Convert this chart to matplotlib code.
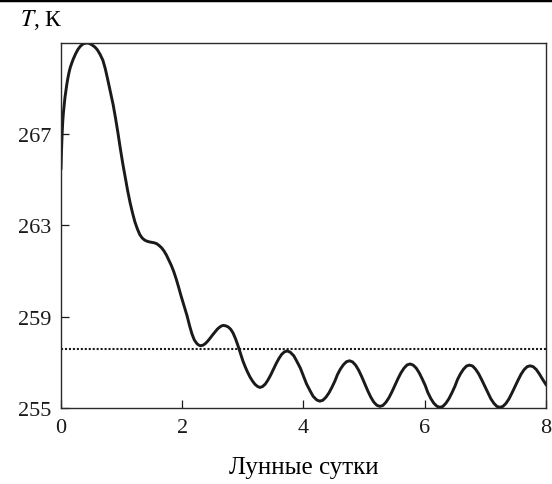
import matplotlib
matplotlib.use("Agg")
import matplotlib.pyplot as plt
from matplotlib.lines import Line2D

days = [0.0, 0.005, 0.01, 0.02, 0.03, 0.04, 0.05, 0.065, 0.08, 0.095, 0.11,
        0.13, 0.15, 0.175, 0.2, 0.24, 0.28, 0.32, 0.36, 0.4, 0.435, 0.47,
        0.52, 0.56, 0.6, 0.645, 0.69, 0.73, 0.77, 0.815, 0.86, 0.9, 0.94,
        0.98, 1.02, 1.06, 1.1, 1.14, 1.18, 1.22, 1.26, 1.3, 1.34, 1.38, 1.42,
        1.46, 1.5, 1.54, 1.58, 1.62, 1.66, 1.7, 1.74, 1.78, 1.82, 1.86, 1.9,
        1.94, 1.98, 2.02, 2.05, 2.08, 2.12, 2.16, 2.2, 2.24, 2.27, 2.3, 2.34,
        2.38, 2.42, 2.46, 2.5, 2.54, 2.58, 2.62, 2.65, 2.68, 2.72, 2.76, 2.8,
        2.84, 2.88, 2.92, 2.96, 3.0, 3.04, 3.08, 3.12, 3.16, 3.2, 3.24, 3.28,
        3.325, 3.37, 3.415, 3.46, 3.505, 3.55, 3.595, 3.64, 3.685, 3.73,
        3.78, 3.84, 3.89, 3.95, 4.0, 4.05, 4.11, 4.16, 4.22, 4.27,
        4.32, 4.37, 4.42, 4.47, 4.52, 4.56, 4.61, 4.66, 4.71, 4.76,
        4.81, 4.86, 4.91, 4.96, 5.01, 5.06, 5.11, 5.16, 5.21, 5.26,
        5.31, 5.36, 5.41, 5.46, 5.51, 5.56, 5.61, 5.66, 5.71, 5.76,
        5.81, 5.86, 5.91, 5.96, 6.01, 6.05, 6.1, 6.15, 6.2, 6.25,
        6.3, 6.35, 6.4, 6.45, 6.5, 6.54, 6.59, 6.64, 6.69, 6.74,
        6.79, 6.84, 6.89, 6.94, 6.99, 7.04, 7.09, 7.14, 7.19, 7.24,
        7.29, 7.34, 7.39, 7.44, 7.49, 7.54, 7.59, 7.64, 7.69, 7.74,
        7.79, 7.84, 7.89, 7.94, 8.0]
temp = [265.5, 266.0, 266.4, 267.1, 267.6, 267.95, 268.2, 268.6, 268.9,
        269.17, 269.41, 269.68, 269.9, 270.1, 270.28, 270.52, 270.72, 270.86,
        270.95, 270.99, 271.0, 270.98, 270.9, 270.82, 270.7, 270.5, 270.25,
        269.88, 269.41, 268.85, 268.3, 267.7, 267.05, 266.35, 265.7, 265.1,
        264.52, 264.0, 263.55, 263.15, 262.85, 262.6, 262.45, 262.36, 262.31,
        262.28, 262.26, 262.24, 262.2, 262.12, 262.02, 261.88, 261.7, 261.48,
        261.25, 260.98, 260.66, 260.3, 259.92, 259.57, 259.3, 259.04, 258.62,
        258.25, 257.98, 257.83, 257.76, 257.73, 257.75, 257.82, 257.93,
        258.06, 258.2, 258.33, 258.46, 258.55, 258.6, 258.62, 258.6, 258.55,
        258.45, 258.28, 258.03, 257.73, 257.4, 257.07, 256.8, 256.56, 256.35,
        256.18, 256.04, 255.95, 255.9,
        255.94, 256.05, 256.23, 256.45, 256.7, 256.95, 257.17, 257.35, 257.46,
        257.5,
        257.45, 257.29, 257.05, 256.74, 256.4, 256.06, 255.75, 255.51, 255.35,
        255.3,
        255.34, 255.47, 255.66, 255.91, 256.19, 256.46, 256.71, 256.9, 257.03,
        257.07,
        257.02, 256.88, 256.66, 256.38, 256.07, 255.76, 255.48, 255.26, 255.12,
        255.07,
        255.11, 255.25, 255.45, 255.71, 256.0, 256.29, 256.55, 256.75, 256.89,
        256.93,
        256.88, 256.75, 256.54, 256.27, 255.98, 255.69, 255.42, 255.21, 255.08,
        255.03,
        255.07, 255.21, 255.41, 255.67, 255.96, 256.24, 256.5, 256.7, 256.84,
        256.88,
        256.84, 256.7, 256.5, 256.24, 255.96, 255.67, 255.41, 255.21, 255.07,
        255.03,
        255.07, 255.2, 255.4, 255.66, 255.94, 256.22, 256.48, 256.68, 256.81,
        256.85,
        256.81, 256.69, 256.5, 256.28, 256.03]
mean_level = 257.6

x_ticks = [0, 2, 4, 6, 8]
y_ticks = [255, 259, 263, 267]

plt.rcParams["font.family"] = ["Liberation Serif", "DejaVu Serif"]
plt.rcParams["mathtext.fontset"] = "stix"

fig = plt.figure(figsize=(5.52, 4.85), dpi=100)
ax = fig.add_axes([0.1105, 0.1567, 0.8785, 0.7526])

ax.plot(days, temp, color="#1a1a1a", linewidth=2.1, solid_joinstyle="round")
ax.axhline(mean_level, color="#1a1a1a", linewidth=1.5, linestyle=(0, (1, 0.9)))

ax.set_xlim(0, 8)
ax.set_ylim(255, 271)
ax.set_xticks(x_ticks)
ax.set_yticks(y_ticks)
ax.tick_params(direction="in", length=6, width=0.9, labelsize=16, pad=7,
               top=False, right=False, colors="#1a1a1a")
for s in ax.spines.values():
    s.set_linewidth(1.0)
    s.set_color("#2a2a2a")

ax.set_xlabel("Лунные сутки", fontsize=18, labelpad=14)
fig.text(0.036, 0.958, "$T$, К", fontsize=17, ha="left", va="center")

# black rule along the top edge of the page
fig.add_artist(Line2D([0, 1], [0.997, 0.997], transform=fig.transFigure,
                      color="black", linewidth=2.5))

fig.savefig("out.png", dpi=100)
